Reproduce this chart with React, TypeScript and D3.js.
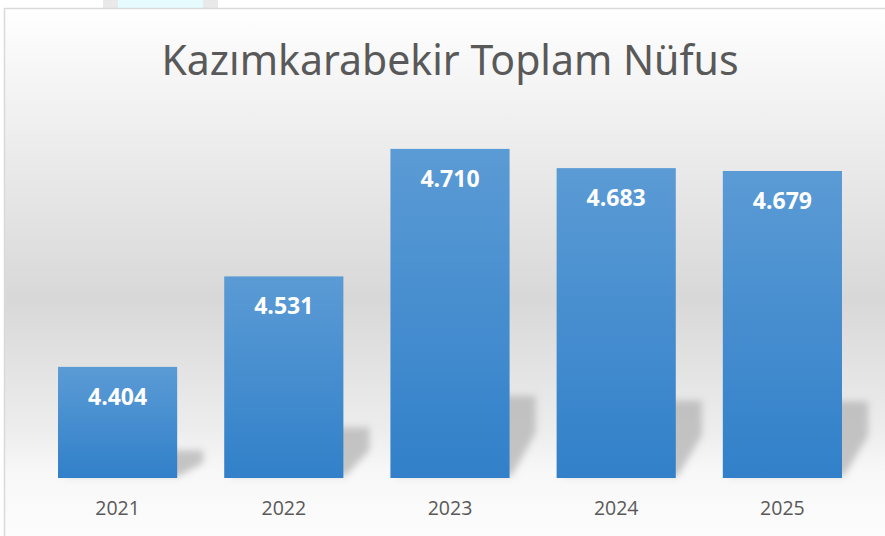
import React from "react";
import * as d3 from "d3";

const categories = ["2021", "2022", "2023", "2024", "2025"];
const values = [4404, 4531, 4710, 4683, 4679];
const valueLabels = ["4.404", "4.531", "4.710", "4.683", "4.679"];
const title = "Kazımkarabekir Toplam Nüfus";
const yDomain = [4248, 4750];

const W = 885;
const H = 536;

export default function App() {
  const x = d3.scaleBand<string>().domain(categories).range([34.5, 865.5]).paddingInner(0.283).paddingOuter(0.1415);
  const y = d3.scaleLinear().domain(yDomain).range([478, 120.4]);
  const base = y(yDomain[0]);
  const bw = x.bandwidth();
  const font = "'Open Sans', 'Noto Sans', sans-serif";

  return (
    <svg width={W} height={H} style={{ position: "absolute", left: 0, top: 0 }} fontFamily={font}>
      <defs>
        <linearGradient id="bg" x1="0" y1="0" x2="0" y2="1">
          <stop offset="0" stopColor="#ffffff" />
          <stop offset="0.12" stopColor="#f6f6f6" />
          <stop offset="0.55" stopColor="#d8d8d8" />
          <stop offset="0.8" stopColor="#ededed" />
          <stop offset="0.88" stopColor="#f8f8f8" />
          <stop offset="1" stopColor="#fcfcfc" />
        </linearGradient>
        <linearGradient id="bar" x1="0" y1="0" x2="0" y2="1">
          <stop offset="0" stopColor="#5b9bd5" />
          <stop offset="1" stopColor="#3180c9" />
        </linearGradient>
        <filter id="blur" x="-50%" y="-50%" width="200%" height="200%">
          <feGaussianBlur stdDeviation="3.5" />
        </filter>
      </defs>
      <rect x={0} y={0} width={W} height={H} fill="#ffffff" />
      <rect x={103} y={0} width={115} height={8} fill="#e9e9e9" />
      <rect x={118} y={0} width={85} height={8} fill="#e6fbfd" />
      <rect x={5} y={9} width={W - 5} height={H - 9} fill="url(#bg)" />
      <line x1={4} y1={8.5} x2={W} y2={8.5} stroke="#d9d9d9" strokeWidth={1.5} />
      <line x1={4.5} y1={8} x2={4.5} y2={H} stroke="#d9d9d9" strokeWidth={1.5} />
      <text x={450} y={75} textAnchor="middle" fontSize={41} fill="#595959" fontFamily="'Noto Sans', sans-serif" fontWeight={400}>
        {title}
      </text>
      {categories.map((c, i) => {
        const x0 = x(c)!;
        const h = base - y(values[i]);
        const sh = h * 0.25;
        const dx = 26;
        const pts = [
          [x0 + 6, base - 2],
          [x0 + bw + 2, base - 2],
          [x0 + bw + dx, base - sh * 0.55],
          [x0 + bw + dx, base - sh],
          [x0 + dx, base - sh],
        ];
        return (
          <polygon key={"s" + c} points={pts.map((p) => p.join(",")).join(" ")} fill="#b4b4b4" opacity={0.75} filter="url(#blur)" />
        );
      })}
      {categories.map((c, i) => (
        <rect key={c} x={x(c)} y={y(values[i])} width={bw} height={base - y(values[i])} fill="url(#bar)" />
      ))}
      {categories.map((c, i) => (
        <text key={"v" + c} x={x(c)! + bw / 2} y={y(values[i]) + 38} textAnchor="middle" fontSize={23} fontWeight={700} fill="#ffffff">
          {valueLabels[i]}
        </text>
      ))}
      {categories.map((c) => (
        <text key={"c" + c} x={x(c)! + bw / 2} y={515} textAnchor="middle" fontSize={19.5} fill="#595959">
          {c}
        </text>
      ))}
    </svg>
  );
}
